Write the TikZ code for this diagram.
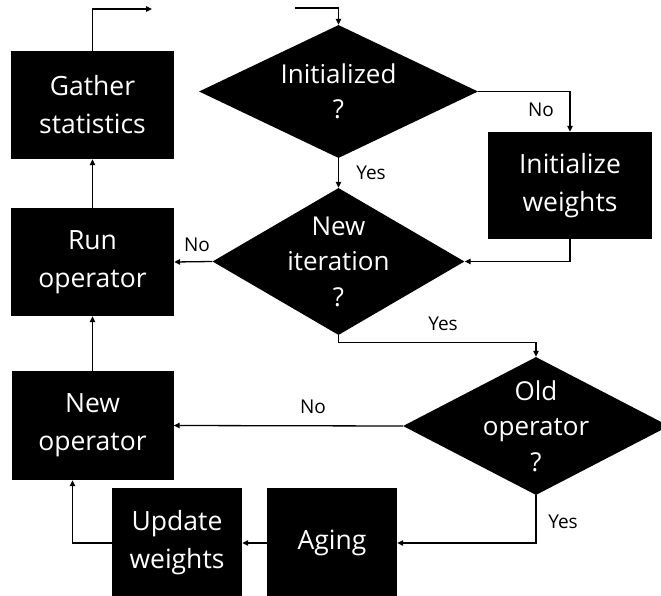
\documentclass[tikz,border=0pt]{standalone}
\usepackage{fontspec}
\setmainfont{Open Sans}
\usetikzlibrary{shapes.geometric,arrows.meta}
\tikzset{
  blk/.style={draw=none,fill=black,text=white,inner sep=0pt,align=center,
    font=\fontsize{26.5}{38}\selectfont},
  dia/.style={diamond,fill=black,inner sep=0pt},
  dtext/.style={text=white,align=center,font=\fontsize{26}{35.5}\selectfont},
  lbl/.style={font=\fontsize{19}{21}\selectfont,inner sep=0pt},
  arr/.style={line width=1.3pt,-{Triangle[length=6pt,width=5.5pt]}},
}
\begin{document}
\begin{tikzpicture}[x=1pt,y=-1pt]
\clip (0,0) rectangle (661,596);
\useasboundingbox (0,0) rectangle (661,596);
% boxes
\node[blk,minimum width=163,minimum height=108] (gather) at (92.5,105) {Gather\\statistics};
\node[blk,minimum width=163,minimum height=108] (run) at (92.5,262) {Run\\operator};
\node[blk,minimum width=162,minimum height=109] (newop) at (92.5,425.5) {New\\operator};
\node[blk,minimum width=164,minimum height=107] (initw) at (570,185.5) {Initialize\\weights};
\node[blk,minimum width=130,minimum height=110] (update) at (177,543) {Update\\weights};
\node[blk,minimum width=130,minimum height=110] (aging) at (332,543) {Aging};
% diamonds
\node[dia,minimum width=279,minimum height=133] (d1) at (338.5,91.5) {};
\node[dtext] (t1) at (d1.center) {Initialized\\?};
\node[dia,minimum width=252,minimum height=147] (d2) at (338.5,261.5) {};
\node[dtext] (t2) at (d2.center) {New\\iteration\\?};
\node[dia,minimum width=266,minimum height=138] (d3) at (536,426) {};
\node[dtext] (t3) at (d3.center) {Old\\operator\\?};
% free ends
\coordinate (topL) at (152,9);
\coordinate (topR) at (295,8);
% connectors
\draw[arr] (gather.north) |- (topL);
\draw[arr] (topR) -| (d1.north);
\draw[arr] (d1.east) -| (initw.north);
\draw[arr] (d1.south) -- (d2.north);
\draw[arr] (initw.south) |- (d2.east);
\draw[arr] (d2.west) -- (run.east);
\draw[arr] (d2.south) -- ++(0,7) -| (d3.north);
\draw[arr] (d3.west) -- (newop.east);
\draw[arr] (d3.south) |- (aging.east);
\draw[arr] (aging.west) -- (update.east);
\draw[arr] (update.west) -| ([xshift=-20pt]newop.south);
\draw[arr] (newop.north) -- (run.south);
\draw[arr] (run.north) -- (gather.south);
% labels
\node[lbl] (l1) at (541,110) {No};
\node[lbl] (l2) at (371,173) {Yes};
\node[lbl] (l3) at (197,245) {No};
\node[lbl] (l4) at (443,324) {Yes};
\node[lbl] (l5) at (313,407) {No};
\node[lbl] (l6) at (563,522) {Yes};
\end{tikzpicture}
\end{document}
